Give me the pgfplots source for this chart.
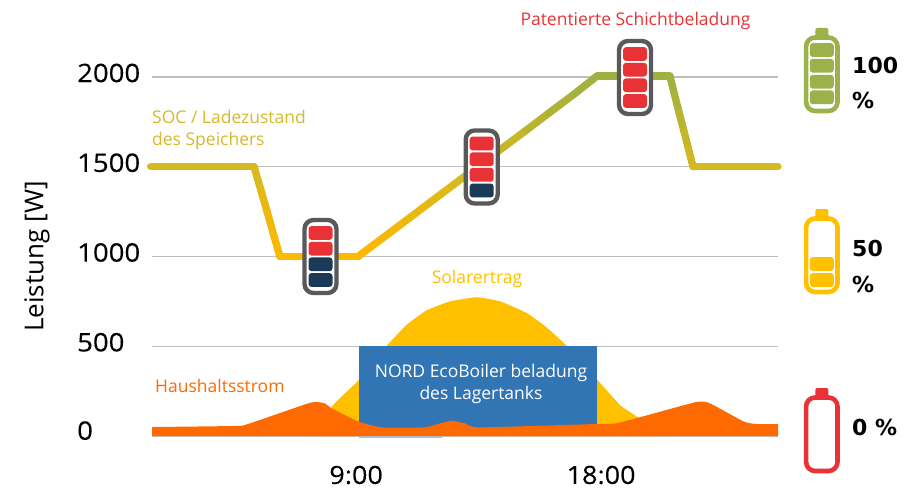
\documentclass[border=0pt]{standalone}
\usepackage{pgfplots}
\pgfplotsset{compat=1.18}
\usepackage{fontspec}
\setmainfont{Open Sans}
\newfontfamily\tickf[FakeStretch=1.08,FakeBold=0.15]{Open Sans}
\newfontfamily\boldf{DejaVu Sans Bold}
\definecolor{grid}{HTML}{BFBFBF}
\definecolor{solar}{HTML}{FFC000}
\definecolor{house}{HTML}{FF6A00}
\definecolor{boxblue}{HTML}{3175B5}
\definecolor{tred}{HTML}{E83236}
\definecolor{tnavy}{HTML}{1A3A57}
\definecolor{tgray}{HTML}{595959}
\definecolor{bgreen}{HTML}{9DB14B}
\definecolor{socy}{HTML}{D5B92A}
\newcommand{\seg}[3]{\fill[#3,rounded corners=3pt] (#1-12,#2-6.9) rectangle (#1+12,#2+6.9);}
\newcommand{\tank}[6]{% xc yc colours top..bottom
  \draw[tgray,line width=4.4pt,fill=white,rounded corners=9pt] (#1-16,#2-36.5) rectangle (#1+16,#2+36.5);
  \seg{#1}{#2-23.5}{#3}\seg{#1}{#2-7.8}{#4}\seg{#1}{#2+7.8}{#5}\seg{#1}{#2+23.5}{#6}}
\newcommand{\batt}[3]{% xc top colour ; body
  \fill[#3,rounded corners=2pt] (#1-6.5,#2) rectangle (#1+6.5,#2+10);
  \draw[#3,line width=4.6pt,fill=white,rounded corners=9pt] (#1-15.7,#2+9.5) rectangle (#1+15.7,#2+83);}
\begin{document}
\begin{tikzpicture}
\path[use as bounding box] (0,0) rectangle (920pt,488pt);
\begin{axis}[
  at={(152pt,52pt)}, anchor=south west,
  scale only axis, width=626pt, height=359pt,
  xmin=1.5, xmax=24.5, ymin=0, ymax=2000,
  clip=false,
  axis line style={draw=none},
  tick style={draw=none},
  ymajorgrids, grid style={color=grid,line width=1.2pt},
  ytick={0,500,1000,1500,2000},
  yticklabels={\raisebox{3pt}{0},500,1000,1500,2000},
  xtick={9,18},
  xticklabels={9:00,18:00},
  yticklabel style={font=\fontsize{25.5}{28}\selectfont\tickf, anchor=west, inner sep=0pt, xshift=-75pt, yshift=4pt},
  xticklabel style={font=\fontsize{25}{28}\selectfont\tickf, anchor=center, yshift=-39pt},
  ylabel={Leistung [W]},
  every axis y label/.style={at={(axis description cs:-0.1837,0.5)},rotate=90,anchor=center,font=\fontsize{26}{30}\selectfont},
  colormap={soc}{rgb255(0pt)=(255,185,0); rgb255(1pt)=(212,185,32); rgb255(2pt)=(157,177,66)},
  point meta min=1000, point meta max=2000,
]
% Solarertrag
\addplot[fill=solar,draw=none,smooth,tension=0.25] coordinates {
 (7.60,0)(8.1,163)(9.1,312)(10.09,497)(10.86,620)(11.59,700)(12.45,750)(13.43,773)
 (14.29,750)(15.27,685)(16.0,605)(16.77,497)(17.87,312)(18.69,173)(19.39,100)(20.17,0)} \closedcycle;
% NORD EcoBoiler
\addplot[fill=boxblue,draw=none] coordinates {(9.1,0)(17.85,0)(17.85,500)(9.1,500)} --cycle;
\addplot[fill=boxblue!45,draw=none] coordinates {(9.1,-12)(12.15,-12)(12.15,0)(9.1,0)} --cycle;
% Haushaltsstrom
\addplot[fill=house,draw=none,smooth,tension=0.3] coordinates {
 (1.5,50)(4.59,56)(5.03,67)(7.2,180)(7.53,189)(7.85,182)(8.1,154)(9.1,80)(9.95,48)(11.52,48)(12.08,70)(12.52,85)
 (13.0,70)(13.54,48)(17.84,67)(18.57,71)(19.8,120)(21.49,189)(21.97,184)(23.25,80)(23.73,67)(24.5,67)} \closedcycle;
% SOC
\addplot[mesh,point meta=y,line width=7.4pt,line cap=round,line join=round,shader=flat] coordinates {
 (1.45,1500)(5.25,1500)(5.49,1375)(5.73,1250)(5.96,1125)(6.2,1000)(9.07,1000)
 (9.95,1100)(10.83,1200)(11.70,1300)(12.58,1400)(13.46,1500)(14.34,1600)(15.22,1700)(16.09,1800)(16.97,1900)(17.85,2005)
 (20.53,2005)(20.70,1900)(20.87,1800)(21.04,1700)(21.21,1600)(21.38,1500)(24.5,1500)};
\end{axis}
\begin{scope}[x=1pt,y=-1pt,shift={(0,488pt)}]
\tank{320.5}{256.5}{tred}{tred}{tnavy}{tnavy}
\tank{481.7}{167}{tred}{tred}{tred}{tnavy}
\tank{635}{77.5}{tred}{tred}{tred}{tred}
\batt{821.8}{28}{bgreen}
\seg{821.8}{50}{bgreen}\seg{821.8}{65.7}{bgreen}\seg{821.8}{81.7}{bgreen}\seg{821.8}{97.3}{bgreen}
\batt{821.8}{209}{solar}
\seg{821.8}{264}{solar}\seg{821.8}{280}{solar}
\batt{821.8}{388}{tred}
\node[anchor=west,inner sep=0pt,font=\fontsize{22}{26}\selectfont\boldf] at (852,65) {100};
\node[anchor=west,inner sep=0pt,font=\fontsize{22}{26}\selectfont\boldf] at (852,100) {\%};
\node[anchor=west,inner sep=0pt,font=\fontsize{22}{26}\selectfont\boldf] at (852,248) {50};
\node[anchor=west,inner sep=0pt,font=\fontsize{22}{26}\selectfont\boldf] at (852,284) {\%};
\node[anchor=west,inner sep=0pt,font=\fontsize{22}{26}\selectfont\boldf] at (852,427) {0 \%};
\node[anchor=center,inner sep=0pt,text=tred,font=\fontsize{17.5}{21}\selectfont] at (635.5,21) {Patentierte Schichtbeladung};
\node[anchor=west,inner sep=0pt,text=socy,align=left,font=\fontsize{17.5}{22}\selectfont] at (152,130) {SOC / Ladezustand\\des Speichers};
\node[anchor=center,inner sep=0pt,text=solar,font=\fontsize{17.5}{21}\selectfont] at (477,279) {Solarertrag};
\node[anchor=west,inner sep=0pt,text=house,font=\fontsize{17.5}{21}\selectfont] at (155,386) {Haushaltsstrom};
\node[anchor=center,inner sep=0pt,text=white,align=center,font=\fontsize{17.5}{22}\selectfont] at (481,384) {NORD EcoBoiler beladung\\des Lagertanks};
\end{scope}
\end{tikzpicture}
\end{document}
